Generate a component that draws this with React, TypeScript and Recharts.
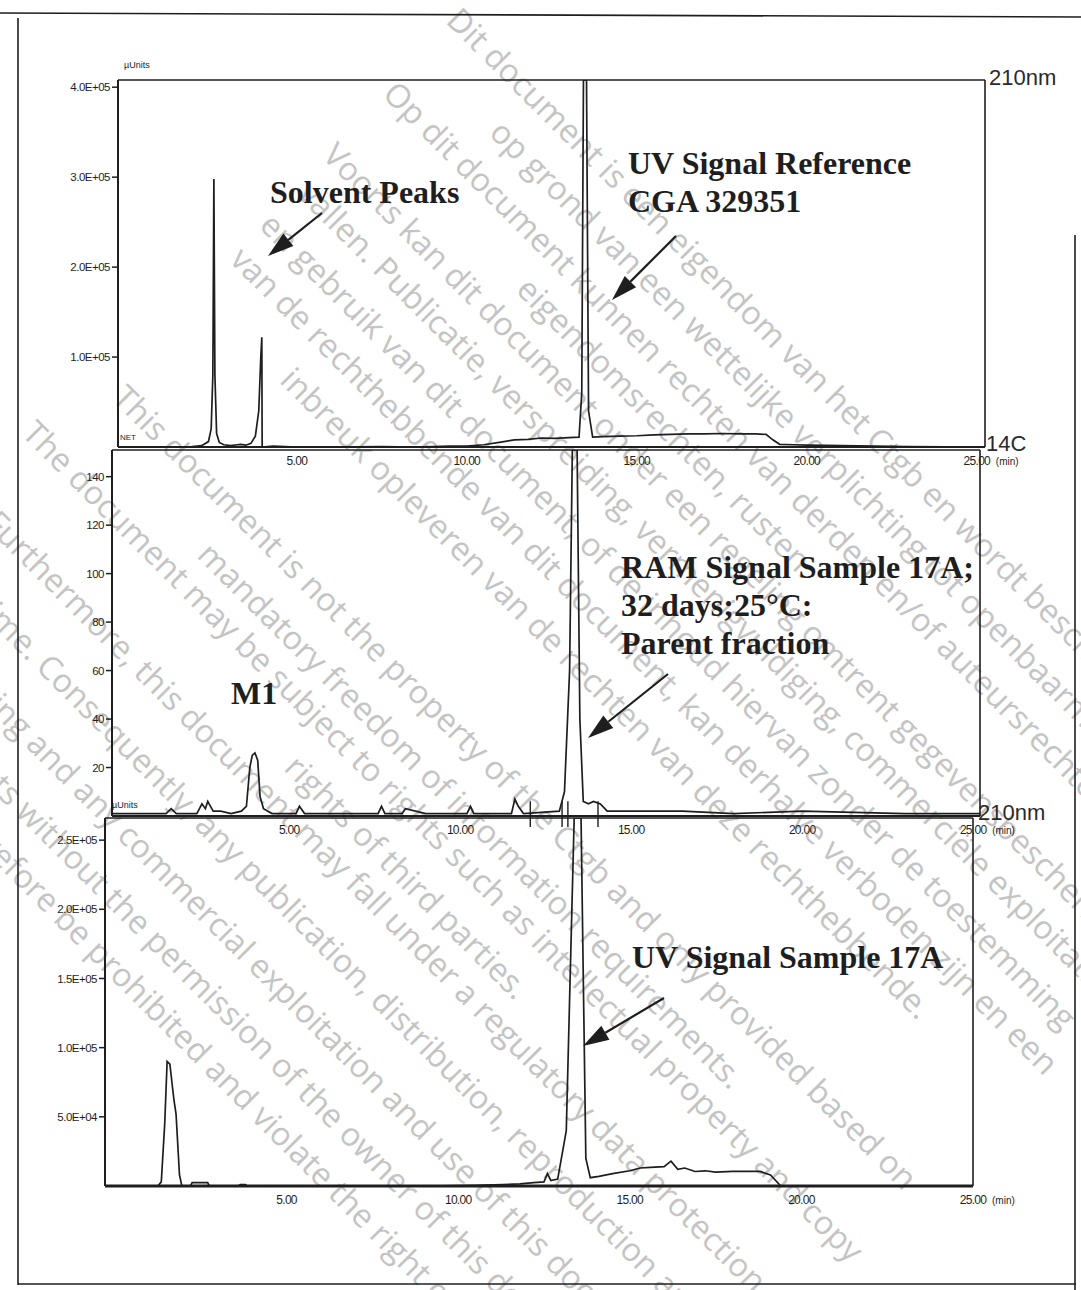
import React from "react";
import { LineChart, Line, XAxis, YAxis, ReferenceLine } from "recharts";

// UV 210nm, reference CGA 329351 (µUnits)
const refTime = [-0.26, 1.8, 2.2, 2.4, 2.48, 2.53, 2.56, 2.59, 2.64, 2.72, 2.85, 3.05, 3.25, 3.35, 3.5, 3.65, 3.78, 3.88, 3.94, 3.97, 3.98, 4.3, 5.0, 6.0, 7.5, 8.5, 9.5, 10.0, 10.5, 11.0, 11.4, 11.8, 12.2, 12.6, 13.0, 13.3, 13.38, 13.43, 13.52, 13.58, 13.7, 14.0, 14.5, 15.0, 15.5, 16.0, 16.5, 17.0, 17.5, 18.0, 18.5, 18.8, 19.0, 19.2, 19.6, 20.0, 21.0, 22.0, 23.0, 25.24];
const refSignal = [0, 0, 1500, 6000, 20000, 80000, 298000, 80000, 15000, 5000, 2500, 1500, 2500, 3000, 2000, 4000, 12000, 40000, 100000, 122000, 0, 1000, 0, 0, 500, 0, 1000, 1000, 2500, 5500, 8000, 8500, 10000, 9500, 10500, 11000, 60000, 408000, 408000, 40000, 11000, 11500, 12000, 12500, 13500, 14000, 14500, 14500, 15000, 14500, 14500, 14000, 8000, 3000, 2500, 2000, 1500, 1000, 500, 0];

// 14C radio detector, sample 17A (counts)
const ramTime = [-0.18, 0.5, 1.4, 1.55, 1.7, 2.3, 2.45, 2.55, 2.62, 2.7, 2.78, 2.85, 3.0, 3.3, 3.6, 3.75, 3.85, 3.92, 4.0, 4.08, 4.15, 4.25, 4.5, 5.2, 5.3, 5.45, 6.0, 7.6, 7.7, 7.8, 8.3, 8.4, 9.0, 10.2, 10.3, 10.4, 11.5, 11.6, 11.7, 11.85, 12.9, 13.05, 13.2, 13.28, 13.42, 13.5, 13.6, 13.75, 13.9, 14.1, 14.3, 15.0, 16.5, 18.0, 20.0, 23.0, 25.2];
const ramSignal = [1, 1, 1, 3, 1, 1, 5, 3, 6, 4, 2, 2, 2, 1, 2, 4, 20, 25, 26, 23, 8, 3, 1, 1, 4, 1, 1, 1, 4, 1, 1, 3, 1, 1, 4, 1, 1, 7, 4, 1, 2, 10, 60, 151, 151, 40, 6, 5, 6, 5, 2, 2, 2, 1, 2, 1, 1];
// integration marks on the radio trace (min)
const ramMarks = [12.05, 12.98, 13.15, 14.03];

// UV 210nm, sample 17A (µUnits)
const uvTime = [-0.29, 1.25, 1.35, 1.45, 1.52, 1.6, 1.66, 1.72, 1.78, 1.88, 1.95, 2.2, 2.25, 2.7, 2.75, 3.6, 3.65, 3.8, 3.85, 6.0, 9.0, 10.5, 11.3, 11.8, 12.2, 12.5, 12.6, 12.7, 12.9, 13.15, 13.38, 13.58, 13.72, 13.85, 14.1, 14.5, 15.0, 15.3, 15.6, 16.0, 16.2, 16.4, 16.6, 16.9, 17.2, 17.5, 18.0, 18.5, 18.8, 19.1, 19.4, 20.0, 25.0];
const uvSignal = [0, 0, 3000, 45000, 90000, 88000, 75000, 62000, 52000, 8000, 0, 0, 2500, 2500, 0, 0, 1000, 1000, 0, 0, 0, 500, 1000, 1500, 2500, 3000, 9000, 4000, 5000, 40000, 266000, 266000, 20000, 6000, 7000, 9000, 11000, 13000, 13500, 14000, 18000, 12000, 13000, 10500, 11000, 10000, 10500, 10500, 10500, 8000, 0, 0, 0];

const timeTicks = [5, 10, 15, 20, 25];
const refTicks = [100000, 200000, 300000, 400000];
const ramTicks = [20, 40, 60, 80, 100, 120, 140];
const uvTicks = [50000, 100000, 150000, 200000, 250000];

const englishNotice = [
  "This document is not the property of the Ctgb and only provided based on",
  "mandatory freedom of information requirements.",
  "The document may be subject to rights such as intellectual property and copy",
  "rights of third parties.",
  "Furthermore, this document may fall under a regulatory data protection",
  "regime. Consequently, any publication, distribution, reproduction and/or",
  "publishing and any commercial exploitation and use of this document",
  "or its contents without the permission of the owner of this document",
  "may therefore be prohibited and violate the right of its owner.",
];
const dutchNotice = [
  "Dit document is een eigendom van het Ctgb en wordt beschikbaar gesteld",
  "op grond van een wettelijke verplichting tot openbaarmaking.",
  "Op dit document kunnen rechten van derden en/of auteursrechten, waaronder",
  "eigendomsrechten, rusten.",
  "Voorts kan dit document onder een regeling omtrent gegevensbescherming",
  "vallen. Publicatie, verspreiding, vermenigvuldiging, commerciële exploitatie",
  "en gebruik van dit document, of de inhoud hiervan zonder de toestemming",
  "van de rechthebbende van dit document, kan derhalve verboden zijn en een",
  "inbreuk opleveren van de rechten van deze rechthebbende.",
];
// start of each notice line, in the rotated (45deg) frame
const englishPos = [[361, 180], [532, 231], [322, 269], [744, 320], [359, 359], [374, 424], [379, 486], [360, 541], [463, 590]];
const dutchPos = [[330, -323], [440, -274], [337, -226], [570, -182], [338, -140], [348, -95], [343, -46], [346, -1], [467, 49]];

const INK = "#1e1e1e";
const AXIS_FONT = "'Liberation Sans', Arial, sans-serif";

const sci = (v: number) => {
  const [m, e] = v.toExponential(1).split("e");
  return `${m}E${e[0]}${e.slice(1).padStart(2, "0")}`;
};

const XTick = (props: any) => {
  const { x, y, payload } = props;
  return (
    <g>
      <text x={x} y={y} dy={10} textAnchor="middle" fontSize={12} fontFamily={AXIS_FONT} fill={INK} letterSpacing={-0.7}>
        {payload.value.toFixed(2)}
      </text>
      {payload.value === 25 && (
        <text x={x + 19} y={y} dy={10} fontSize={10} fontFamily={AXIS_FONT} fill={INK}>(min)</text>
      )}
    </g>
  );
};

const Y_W = 70;
const R_M = 50;

function Trace({ data, axisX, top, right, bottom, xDomain, yDomain, yTicks, yFmt, marks = [], baseWidth = 2 }: any) {
  const width = Y_W + (right - axisX) + R_M;
  const height = 6 + (bottom - top) + 28;
  return (
    <div style={{ position: "absolute", left: axisX - Y_W, top: top - 6, zIndex: 1 }}>
      <LineChart width={width} height={height} data={data} margin={{ top: 6, right: R_M, left: 0, bottom: 0 }}>
        <XAxis
          type="number"
          dataKey="t"
          domain={xDomain}
          ticks={timeTicks}
          allowDataOverflow
          tickLine={false}
          tick={<XTick />}
          height={28}
          axisLine={{ stroke: INK, strokeWidth: baseWidth }}
        />
        <YAxis
          type="number"
          domain={yDomain}
          ticks={yTicks}
          allowDataOverflow
          width={Y_W}
          tickSize={6}
          tickFormatter={yFmt}
          tick={{ fontSize: 11.5, fill: INK, fontFamily: AXIS_FONT, letterSpacing: -0.5 }}
          tickLine={{ stroke: INK, strokeWidth: 1.5 }}
          axisLine={{ stroke: INK, strokeWidth: 2 }}
        />
        <ReferenceLine y={yDomain[1]} stroke={INK} strokeWidth={1.6} />
        <ReferenceLine x={xDomain[1]} stroke={INK} strokeWidth={1.6} />
        {marks.map((m: number) => (
          <ReferenceLine
            key={m}
            segment={[{ x: m, y: -yDomain[1] * 0.03 }, { x: m, y: yDomain[1] * 0.04 }]}
            ifOverflow="visible"
            stroke={INK}
            strokeWidth={1.4}
          />
        ))}
        <Line type="linear" dataKey="v" stroke={INK} strokeWidth={1.7} dot={false} isAnimationActive={false} />
      </LineChart>
    </div>
  );
}

function Arrow({ x1, y1, x2, y2 }: { x1: number; y1: number; x2: number; y2: number }) {
  const a = Math.atan2(y2 - y1, x2 - x1);
  const len = 26;
  const half = 8;
  const bx = x2 - len * Math.cos(a);
  const by = y2 - len * Math.sin(a);
  const px = -Math.sin(a) * half;
  const py = Math.cos(a) * half;
  return (
    <g>
      <line x1={x1} y1={y1} x2={bx} y2={by} stroke={INK} strokeWidth={2.2} />
      <polygon points={`${x2},${y2} ${bx + px},${by + py} ${bx - px},${by - py}`} fill={INK} />
    </g>
  );
}

export default function App() {
  const refData = refTime.map((t, i) => ({ t, v: refSignal[i] }));
  const ramData = ramTime.map((t, i) => ({ t, v: ramSignal[i] }));
  const uvData = uvTime.map((t, i) => ({ t, v: uvSignal[i] }));
  const serif = { fontFamily: "'Liberation Serif', 'Times New Roman', serif", fontWeight: 700, fontSize: 32, fill: INK } as const;
  const small = { fontFamily: AXIS_FONT, fontSize: 9, fill: INK } as const;
  const big = { fontFamily: AXIS_FONT, fontSize: 22, fill: "#2a2a2a" } as const;

  return (
    <div style={{ position: "absolute", left: 0, top: 0, width: 1081, height: 1290, background: "#fff", overflow: "hidden" }}>
      <svg width={1081} height={1290} style={{ position: "absolute", left: 0, top: 0, zIndex: 0 }}>
        <g transform="rotate(45)" fontFamily="'Open Sans', 'DejaVu Sans', sans-serif" fontSize={32.5} fill="#c4c4c4">
          {englishNotice.map((s, i) => (
            <text key={"e" + i} x={englishPos[i][0]} y={englishPos[i][1] + 24}>{s}</text>
          ))}
          {dutchNotice.map((s, i) => (
            <text key={"d" + i} x={dutchPos[i][0]} y={dutchPos[i][1] + 24}>{s}</text>
          ))}
        </g>
      </svg>

      <Trace data={refData} axisX={118} top={80} right={985} bottom={447} xDomain={[-0.26, 25.24]} yDomain={[0, 408000]} yTicks={refTicks} yFmt={sci} />
      <Trace data={ramData} axisX={112} top={450} right={980} bottom={816} xDomain={[-0.18, 25.2]} yDomain={[0, 151]} yTicks={ramTicks} yFmt={(v: number) => String(v)} marks={ramMarks} />
      <Trace data={uvData} axisX={105} top={818} right={973} bottom={1186} xDomain={[-0.29, 25.0]} yDomain={[0, 266000]} yTicks={uvTicks} yFmt={sci} baseWidth={3} />

      <svg width={1081} height={1290} style={{ position: "absolute", left: 0, top: 0, zIndex: 2, pointerEvents: "none" }}>
        {/* page frame */}
        <line x1={0} y1={13} x2={1081} y2={17} stroke={INK} strokeWidth={1.6} />
        <line x1={18} y1={18} x2={18} y2={1285} stroke={INK} strokeWidth={1.6} />
        <line x1={18} y1={1284} x2={1076} y2={1284} stroke={INK} strokeWidth={1.6} />
        <line x1={1075} y1={235} x2={1075} y2={1290} stroke={INK} strokeWidth={1.6} />

        <text x={124} y={68} {...small}>µUnits</text>
        <text x={120} y={440} {...small} fontSize={8}>NET</text>
        <text x={112} y={808} {...small}>µUnits</text>

        <text x={989} y={85} {...big}>210nm</text>
        <text x={986} y={451} {...big}>14C</text>
        <text x={978} y={820} {...big}>210nm</text>

        <text x={270} y={203} {...serif}>Solvent Peaks</text>
        <text x={628} y={174} {...serif}>UV Signal Reference</text>
        <text x={628} y={212} {...serif}>CGA 329351</text>
        <text x={621} y={578} {...serif}>RAM Signal Sample 17A;</text>
        <text x={621} y={616} {...serif}>32 days;25°C:</text>
        <text x={621} y={654} {...serif}>Parent fraction</text>
        <text x={231} y={704} {...serif}>M1</text>
        <text x={632} y={968} {...serif}>UV Signal Sample 17A</text>

        <Arrow x1={322} y1={213} x2={268} y2={256} />
        <Arrow x1={676} y1={236} x2={612} y2={300} />
        <Arrow x1={668} y1={674} x2={588} y2={738} />
        <Arrow x1={664} y1={998} x2={583} y2={1046} />
      </svg>
    </div>
  );
}
